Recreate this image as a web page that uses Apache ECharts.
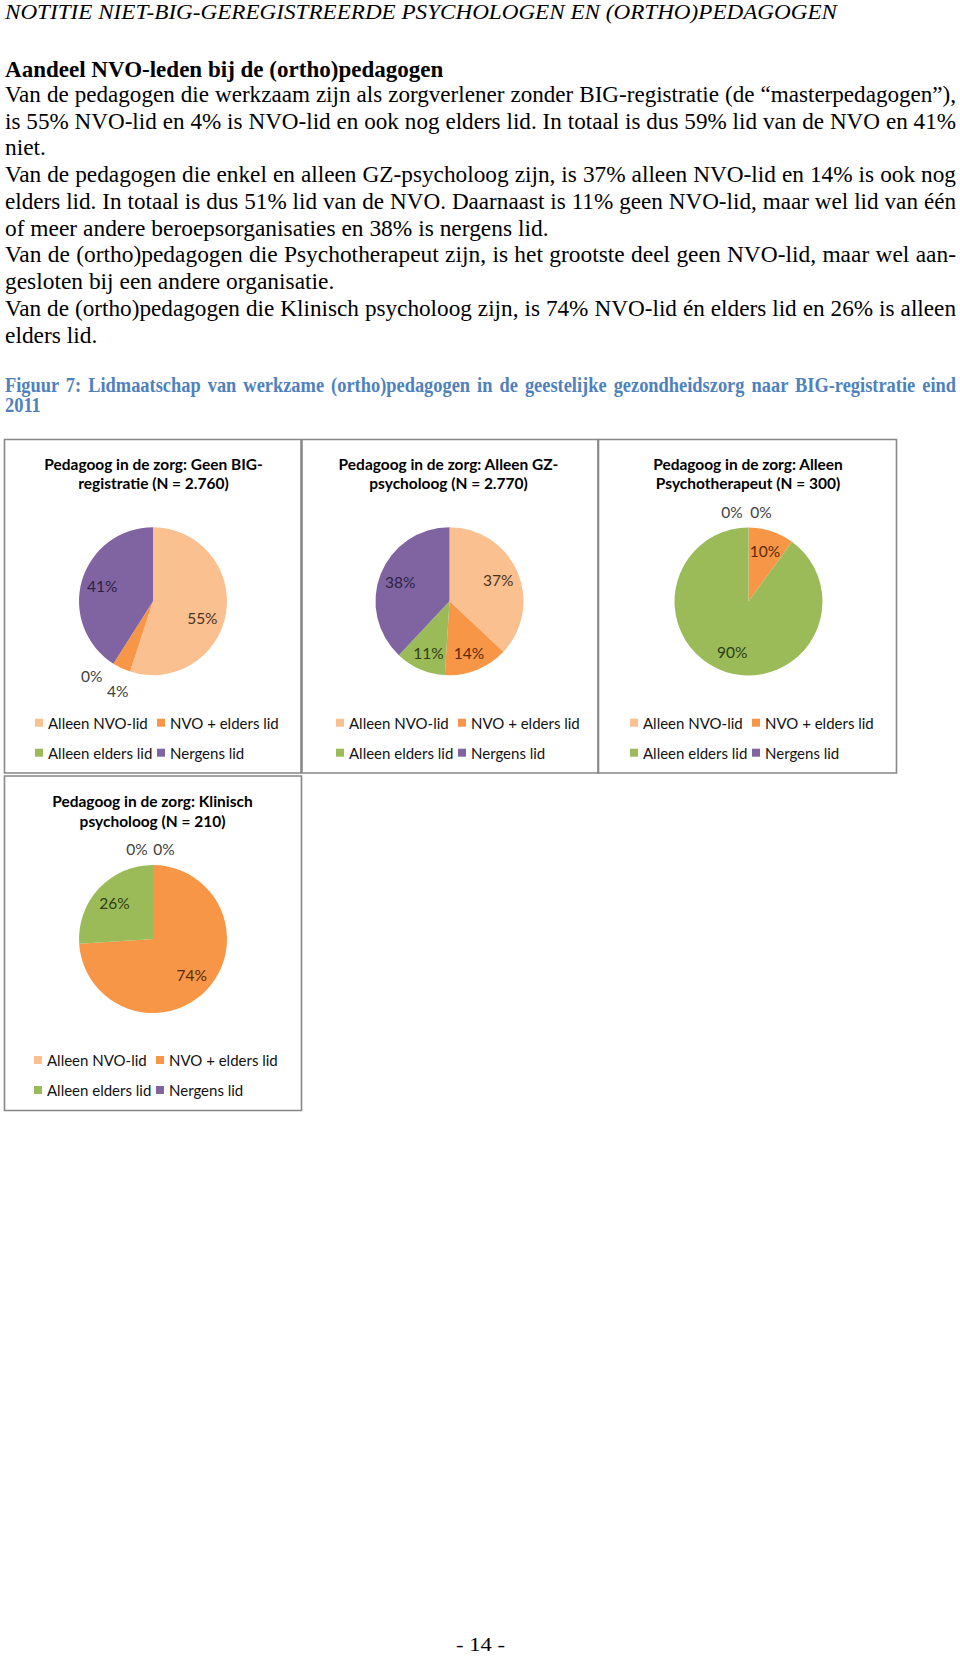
<!DOCTYPE html>
<html><head><meta charset="utf-8">
<script src="https://cdn.jsdelivr.net/npm/echarts@6/dist/echarts.min.js"></script>
<style>
html,body{margin:0;padding:0;background:#fff;}
#page{position:relative;width:960px;height:1656px;overflow:hidden;background:#fff;}
#chart{position:absolute;left:0;top:0;width:960px;height:1656px;}
#doc{position:absolute;left:0;top:0;width:960px;height:1656px;pointer-events:none;}
.ln{position:absolute;transform-origin:0 50%;color:#000;margin:0;padding:0;}
</style></head><body>
<div id="page"><div id="chart"></div><div id="doc"></div></div>
<script>
// ---------------- data ----------------
const categories = ['Alleen NVO-lid', 'NVO + elders lid', 'Alleen elders lid', 'Nergens lid'];
const chartTitles = [
  ['Pedagoog in de zorg: Geen BIG-', 'registratie (N = 2.760)'],
  ['Pedagoog in de zorg: Alleen GZ-', 'psycholoog (N = 2.770)'],
  ['Pedagoog in de zorg: Alleen', 'Psychotherapeut (N = 300)'],
  ['Pedagoog in de zorg: Klinisch', 'psycholoog (N = 210)']
];
const geenBigValues = [55, 4, 0, 41];
const gzPsycholoogValues = [37, 14, 11, 38];
const psychotherapeutValues = [0, 10, 90, 0];
const klinischPsycholoogValues = [0, 74, 26, 0];

const headerText = 'NOTITIE NIET-BIG-GEREGISTREERDE PSYCHOLOGEN EN (ORTHO)PEDAGOGEN';
const headingText = 'Aandeel NVO-leden bij de (ortho)pedagogen';
const bodyLines = [
  'Van de pedagogen die werkzaam zijn als zorgverlener zonder BIG-registratie (de \u201cmasterpedagogen\u201d),',
  'is 55% NVO-lid en 4% is NVO-lid en ook nog elders lid. In totaal is dus 59% lid van de NVO en 41%',
  'niet.',
  'Van de pedagogen die enkel en alleen GZ-psycholoog zijn, is 37% alleen NVO-lid en 14% is ook nog',
  'elders lid. In totaal is dus 51% lid van de NVO. Daarnaast is 11% geen NVO-lid, maar wel lid van \u00e9\u00e9n',
  'of meer andere beroepsorganisaties en 38% is nergens lid.',
  'Van de (ortho)pedagogen die Psychotherapeut zijn, is het grootste deel geen NVO-lid, maar wel aan-',
  'gesloten bij een andere organisatie.',
  'Van de (ortho)pedagogen die Klinisch psycholoog zijn, is 74% NVO-lid \u00e9n elders lid en 26% is alleen',
  'elders lid.'
];
const captionLines = [
  'Figuur 7: Lidmaatschap van werkzame (ortho)pedagogen in de geestelijke gezondheidszorg naar BIG-registratie eind',
  '2011'
];
const pageNumber = '- 14 -';

// ---------------- styles / layout ----------------
const sliceColors = ['#FAC090', '#F79646', '#9BBB59', '#8064A2'];
const labelColors = ['#4a3421', '#5a2a0a', '#2e3d12', '#2d2243'];
const outsideLabelColor = '#404040';
const SANS = 'Lato';
const SERIF = '"Liberation Serif", "Times New Roman", serif';
const LABEL_SIZE = 15.5;
const LEGEND_SIZE = 15;
const TITLE_SIZE = 15.5;
const LEGEND_COL2 = 122;

const panels = [
  {values: geenBigValues, box: [4.5, 439.5, 296.5, 333.5], center: [153, 601.2], titleX: 153.5, titleY: [464, 483],
   legend: [35, 714.2], inner: {0: [-3, 9]}, outer: {1: [3, 8], 2: [-13, -1]}},
  {values: gzPsycholoogValues, box: [302, 439.5, 296, 333.5], center: [449.5, 601.2], titleX: 448.5, titleY: [464, 483],
   legend: [336, 714.2], inner: {1: [0, 3], 2: [0, 3]}, outer: {}},
  {values: psychotherapeutValues, box: [598.5, 439.5, 298, 333.5], center: [748.5, 601.5], titleX: 748, titleY: [464, 483],
   legend: [630, 714.2], inner: {}, outer: {0: [12.5, 0], 3: [-16.5, 0]}},
  {values: klinischPsycholoogValues, box: [4.5, 776, 297, 334.5], center: [153, 939], titleX: 152.5, titleY: [800.5, 821],
   legend: [34, 1051.5], inner: {}, outer: {0: [11, 0], 3: [-16, 0]}}
];
const titleTargets = [[217, 153], [213, 162], [192, 186], [199, 145]];

const mctx = document.createElement('canvas').getContext('2d');
function measure(font, text) { mctx.font = font; return mctx.measureText(text).width; }

// ---------------- chart ----------------
const chart = echarts.init(document.getElementById('chart'), null, {renderer: 'svg', width: 960, height: 1656});

const titleFont = 'bold ' + TITLE_SIZE + 'px ' + SANS;
let ratioSum = 0, ratioN = 0;
chartTitles.forEach((t, k) => t.forEach((s, j) => { ratioSum += titleTargets[k][j] / measure(titleFont, s); ratioN++; }));
const titleScale = ratioSum / ratioN;

const series = [], legends = [], graphics = [];
panels.forEach((p, k) => {
  graphics.push({type: 'rect', silent: true, z: 0,
    shape: {x: p.box[0], y: p.box[1], width: p.box[2], height: p.box[3]},
    style: {fill: 'none', stroke: '#878787', lineWidth: 1.6}});
  chartTitles[k].forEach((s, j) => {
    graphics.push({type: 'text', silent: true, x: p.titleX, y: p.titleY[j], scaleX: titleScale,
      style: {text: s, fontFamily: SANS, fontSize: TITLE_SIZE, fontWeight: 'bold', fill: '#000',
        align: 'center', verticalAlign: 'middle', textAlign: 'center', textVerticalAlign: 'middle'}});
  });
  const common = {type: 'pie', center: p.center, startAngle: 90, clockwise: true, silent: true,
    animation: false, avoidLabelOverlap: false, emphasis: {disabled: true}, labelLine: {show: false}};
  series.push(Object.assign({}, common, {
    name: 'slices' + k, radius: 74,
    itemStyle: {borderWidth: 0},
    label: {show: false},
    data: p.values.map((v, i) => ({name: categories[i], value: v, itemStyle: {color: sliceColors[i], borderWidth: 0}}))
  }));
  series.push(Object.assign({}, common, {
    name: 'inner' + k, radius: [26, 74],
    itemStyle: {color: 'rgba(0,0,0,0)', borderWidth: 0},
    label: {show: true, position: 'inside', formatter: '{c}%', fontFamily: SANS, fontSize: LABEL_SIZE},
    data: p.values.map((v, i) => ({name: categories[i], value: v,
      label: {show: !(i in p.outer), color: labelColors[i], offset: p.inner[i] || [0, 0]}}))
  }));
  series.push(Object.assign({}, common, {
    name: 'outer' + k, radius: [80, 94],
    itemStyle: {color: 'rgba(0,0,0,0)', borderWidth: 0},
    label: {show: true, position: 'inside', formatter: '{c}%', fontFamily: SANS, fontSize: LABEL_SIZE},
    data: p.values.map((v, i) => ({name: categories[i], value: v,
      label: {show: (i in p.outer), color: outsideLabelColor, offset: p.outer[i] || [0, 0]}}))
  }));
  const legendBase = {top: p.legend[1], padding: 0, orient: 'vertical', itemGap: 13,
    itemWidth: 8, itemHeight: 8, icon: 'rect', selectedMode: false,
    textStyle: {fontFamily: SANS, fontSize: LEGEND_SIZE, lineHeight: 17, color: '#111'}};
  legends.push(Object.assign({}, legendBase, {left: p.legend[0], data: [categories[0], categories[2]]}));
  legends.push(Object.assign({}, legendBase, {left: p.legend[0] + LEGEND_COL2, data: [categories[1], categories[3]]}));
});

chart.setOption({
  animation: false,
  backgroundColor: '#fff',
  color: sliceColors,
  legend: legends,
  graphic: {elements: graphics},
  series: series
});

// ---------------- document text ----------------
const doc = document.getElementById('doc');
const LEFT = 5.3, FULLW = 951;
// place a line so that its baseline sits at `base`; the element box equals the font's content area
function place(text, size, style, base, sx, opts) {
  opts = opts || {};
  const d = document.createElement('div');
  d.className = 'ln';
  d.textContent = text;
  const lh = 1.107 * size;
  d.style.font = style + ' ' + size + 'px ' + SERIF;
  d.style.lineHeight = lh + 'px';
  d.style.height = lh + 'px';
  d.style.top = (base - 0.891 * size) + 'px';
  d.style.left = (opts.left != null ? opts.left : LEFT) + 'px';
  if (opts.color) d.style.color = opts.color;
  if (opts.justify) {
    d.style.width = (FULLW / sx) + 'px';
    d.style.textAlign = 'justify';
    d.style.textAlignLast = 'justify';
  } else {
    d.style.whiteSpace = 'nowrap';
  }
  d.style.transform = 'scaleX(' + sx + ')';
  doc.appendChild(d);
}
function fnt(style, size) { return style + ' ' + size + 'px ' + SERIF; }

const bodySize = 23.3;
const bodyFont = fnt('normal', bodySize);
const sxBody = (534.4 / measure(bodyFont, bodyLines[5]) + 334.8 / measure(bodyFont, bodyLines[7])) / 2;
const midToBase = 0.33; // visual middle of a line to its baseline, in em

// header
const headerSize = 21;
place(headerText, headerSize, 'italic', 19.3, 832 / measure(fnt('italic', headerSize), headerText));
// heading
place(headingText, bodySize, 'bold', 69.7 + midToBase * bodySize, 438.3 / measure(fnt('bold', bodySize), headingText));
// body
const bodyJustify = [true, true, false, true, true, false, true, false, true, false];
bodyLines.forEach((t, i) => {
  const cy = 95 + i * 26.76;
  let sx = sxBody;
  if (bodyJustify[i]) sx = Math.min(sxBody, FULLW / (measure(bodyFont, t) + 3));
  place(t, bodySize, 'normal', cy + midToBase * bodySize, sx, {justify: bodyJustify[i]});
});
// caption
const capSize = 20;
const sxCap = Math.min(0.92, FULLW / (measure(fnt('bold', capSize), captionLines[0]) + 3));
place(captionLines[0], capSize, 'bold', 385.5 + midToBase * capSize, sxCap, {justify: true, color: '#4F81BD'});
place(captionLines[1], capSize, 'bold', 405.5 + midToBase * capSize, sxCap, {color: '#4F81BD'});
// page number
const pnSize = 19;
const pnW = measure(fnt('normal', pnSize), pageNumber);
const sxPn = 49 / pnW;
place(pageNumber, pnSize, 'normal', 1645 + midToBase * pnSize, sxPn, {left: 480.5 - pnW * sxPn / 2});
</script>
</body></html>
